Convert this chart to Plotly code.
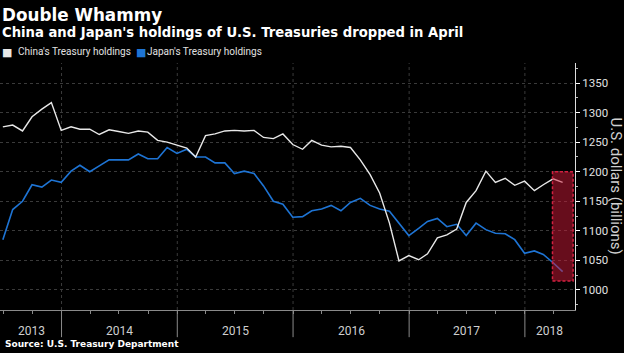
import pandas as pd
import plotly.graph_objects as go

# month-end dates, Jun 2013 .. Apr 2018
months = pd.date_range("2013-06-30", "2018-04-30", freq="ME")

china = [1276, 1279, 1269, 1293, 1306, 1317, 1270, 1276, 1272, 1272,
         1263, 1271, 1268, 1265, 1269, 1267, 1253, 1250, 1245, 1240,
         1225, 1261, 1264, 1269, 1270, 1269, 1270, 1258, 1256, 1264,
         1246, 1238, 1253, 1245, 1242, 1243, 1241, 1220, 1195, 1164,
         1113, 1049, 1058, 1051, 1061, 1088, 1093, 1103, 1148, 1168,
         1201, 1182, 1189, 1177, 1184, 1168, 1178, 1188, 1182]

japan = [1085, 1136, 1150, 1178, 1174, 1186, 1182, 1201, 1211, 1200,
         1210, 1220, 1220, 1220, 1230, 1222, 1222, 1241, 1231, 1238,
         1225, 1225, 1215, 1215, 1197, 1201, 1197, 1176, 1150, 1145,
         1123, 1124, 1134, 1137, 1143, 1134, 1148, 1155, 1143, 1137,
         1133, 1112, 1092, 1104, 1116, 1121, 1107, 1111, 1092, 1113,
         1102, 1096, 1095, 1085, 1062, 1066, 1060, 1046, 1031]

series_names = ["China's Treasury holdings", "Japan's Treasury holdings"]
series_colors = ["#e8e8e8", "#1e74d4"]
years = ["2013", "2014", "2015", "2016", "2017", "2018"]
year_starts = ["2014-01-01", "2015-01-01", "2016-01-01", "2017-01-01", "2018-01-01"]
year_label_pos = ["2013-09-28", "2014-07-02", "2015-07-02", "2016-07-02", "2017-07-02", "2018-03-20"]
y_ticks = [1000, 1050, 1100, 1150, 1200, 1250, 1300, 1350]

W, H = 624, 353
L, R, T, B = 0, 49, 63, 43
PW, PH = W - L - R, H - T - B


def py(pix):
    return (H - B - pix) / PH


def px(pix):
    return (pix - L) / PW


fig = go.Figure()
fig.add_trace(go.Scatter(x=months, y=japan, mode="lines", name=series_names[1],
                         line=dict(color=series_colors[1], width=1.6), showlegend=False))
fig.add_trace(go.Scatter(x=months, y=china, mode="lines", name=series_names[0],
                         line=dict(color=series_colors[0], width=1.4), showlegend=False))

shapes = []
for ys in year_starts:
    shapes.append(dict(type="line", xref="x", yref="paper", x0=ys, x1=ys, y0=0, y1=1,
                       line=dict(color="#3a3a3a", width=1, dash="dot"), layer="below"))
    shapes.append(dict(type="line", xref="x", yref="paper", x0=ys, x1=ys, y0=0, y1=-0.11,
                       line=dict(color="#8a8a8a", width=1)))
# highlight box
shapes.append(dict(type="rect", xref="x", yref="y", x0="2018-03-29", x1="2018-06-02",
                   y0=1015, y1=1200, fillcolor="rgba(205,25,55,0.5)",
                   line=dict(color="#d42040", width=1.5, dash="3px,2px"), layer="above"))

annotations = [
    dict(text="<b>Double Whammy</b>", x=px(0), y=py(15), xref="paper", yref="paper",
         xanchor="left", yanchor="middle", showarrow=False,
         font=dict(family="DejaVu Sans", size=16.8, color="white")),
    dict(text="<b>China and Japan's holdings of U.S. Treasuries dropped in April</b>",
         x=px(0), y=py(33), xref="paper", yref="paper",
         xanchor="left", yanchor="middle", showarrow=False,
         font=dict(family="DejaVu Sans", size=13.2, color="white")),
    dict(text="<b>Source: U.S. Treasury Department</b>", x=px(3), y=py(344),
         xref="paper", yref="paper", xanchor="left", yanchor="middle", showarrow=False,
         font=dict(family="DejaVu Sans", size=9, color="white")),
    dict(text="U.S. dollars (billions)", x=px(616), y=0.5, xref="paper", yref="paper",
         xanchor="center", yanchor="middle", textangle=90, showarrow=False,
         font=dict(family="Roboto", size=15, color="#d0d0d0")),
]
# legend: squares + labels
for name, col, sq_x, tx_x in zip(series_names, series_colors, [6.5, 140.5], [16, 145]):
    annotations.append(dict(text="■", x=px(sq_x), y=py(52.5), xref="paper", yref="paper",
                            xanchor="center", yanchor="middle", showarrow=False,
                            font=dict(family="DejaVu Sans", size=11, color=col)))
    annotations.append(dict(text=name, x=px(tx_x), y=py(52), xref="paper", yref="paper",
                            xanchor="left", yanchor="middle", showarrow=False,
                            font=dict(family="Roboto", size=10, color="#e0e0e0")))
for yl, pos in zip(years, year_label_pos):
    annotations.append(dict(text=yl, x=pos, y=py(331), xref="x", yref="paper",
                            xanchor="center", yanchor="middle", showarrow=False,
                            font=dict(family="Roboto", size=12, color="#cfcfcf")))

fig.update_layout(
    width=W, height=H,
    margin=dict(l=L, r=R, t=T, b=B),
    paper_bgcolor="black", plot_bgcolor="black",
    shapes=shapes, annotations=annotations,
    showlegend=False,
    xaxis=dict(range=["2013-06-21", "2018-06-08"], tickmode="array", tickvals=year_starts,
               showticklabels=False, ticks="", showgrid=False, zeroline=False,
               showline=True, linecolor="#8a8a8a", linewidth=1,
               minor=dict(dtick="M3", tick0="2013-01-01", ticks="outside", ticklen=3,
                          tickcolor="#8a8a8a", showgrid=False)),
    yaxis=dict(range=[966, 1384], side="right", tickmode="array", tickvals=y_ticks,
               ticks="outside", ticklen=4, tickcolor="white", showline=True,
               linecolor="#dddddd", linewidth=1, showgrid=True, gridcolor="#3a3a3a",
               griddash="dot", zeroline=False,
               tickfont=dict(family="Roboto", size=11.5, color="#e0e0e0"),
               minor=dict(dtick=25, tick0=1000, ticks="outside", ticklen=2,
                          tickcolor="#bbbbbb", showgrid=False)),
)

fig.write_html("out.html")
